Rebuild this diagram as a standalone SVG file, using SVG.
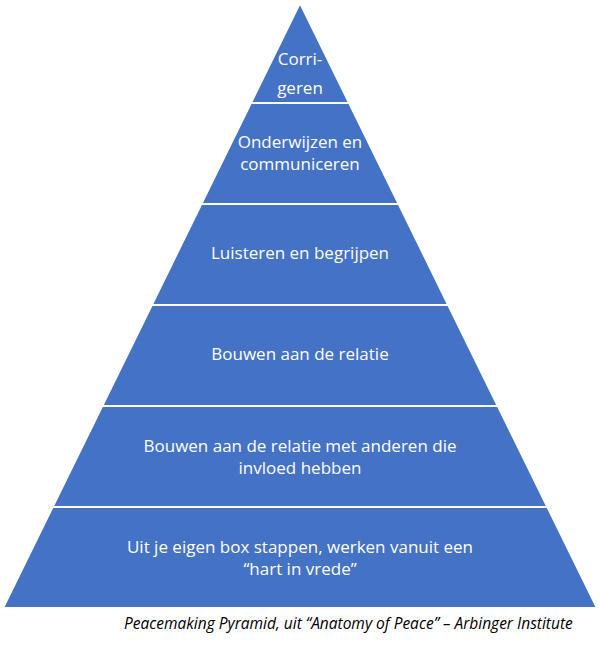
<svg xmlns="http://www.w3.org/2000/svg" width="600" height="645" viewBox="0 0 600 645">
<style>
.layer{fill:#4472C4;stroke:#FFFFFF;stroke-width:2;stroke-linejoin:miter}
.t{font-family:"Open Sans","Noto Sans","Liberation Sans",sans-serif;font-size:17px;fill:#FFFFFF;text-anchor:middle}
.cap{font-family:"Open Sans","Noto Sans","Liberation Sans",sans-serif;font-size:15.5px;font-style:italic;fill:#000000}
</style>
<rect width="600" height="645" fill="#FFFFFF"/>
<g id="layer1">
<polygon class="layer" points="300,3 349.1,103 250.9,103"/>
<text class="t" x="300" y="65">Corri-</text>
<text class="t" x="300" y="94">geren</text>
</g>
<g id="layer2">
<polygon class="layer" points="250.9,103 349.1,103 398.7,204 201.3,204"/>
<text class="t" x="300" y="148">Onderwijzen en</text>
<text class="t" x="300" y="170">communiceren</text>
</g>
<g id="layer3">
<polygon class="layer" points="201.3,204 398.7,204 448.2,305 151.8,305"/>
<text class="t" x="300" y="259">Luisteren en begrijpen</text>
</g>
<g id="layer4">
<polygon class="layer" points="151.8,305 448.2,305 497.8,406 102.2,406"/>
<text class="t" x="300" y="360">Bouwen aan de relatie</text>
</g>
<g id="layer5">
<polygon class="layer" points="102.2,406 497.8,406 547.4,507 52.6,507"/>
<text class="t" x="300" y="452">Bouwen aan de relatie met anderen die</text>
<text class="t" x="300" y="474">invloed hebben</text>
</g>
<g id="layer6">
<polygon class="layer" points="52.6,507 547.4,507 597,608 3,608"/>
<text class="t" x="300" y="553">Uit je eigen box stappen, werken vanuit een</text>
<text class="t" x="300" y="575">“hart in vrede”</text>
</g>
<g id="connectors"></g>
<text class="cap" x="124" y="629">Peacemaking Pyramid, uit “Anatomy of Peace” – Arbinger Institute</text>
</svg>
